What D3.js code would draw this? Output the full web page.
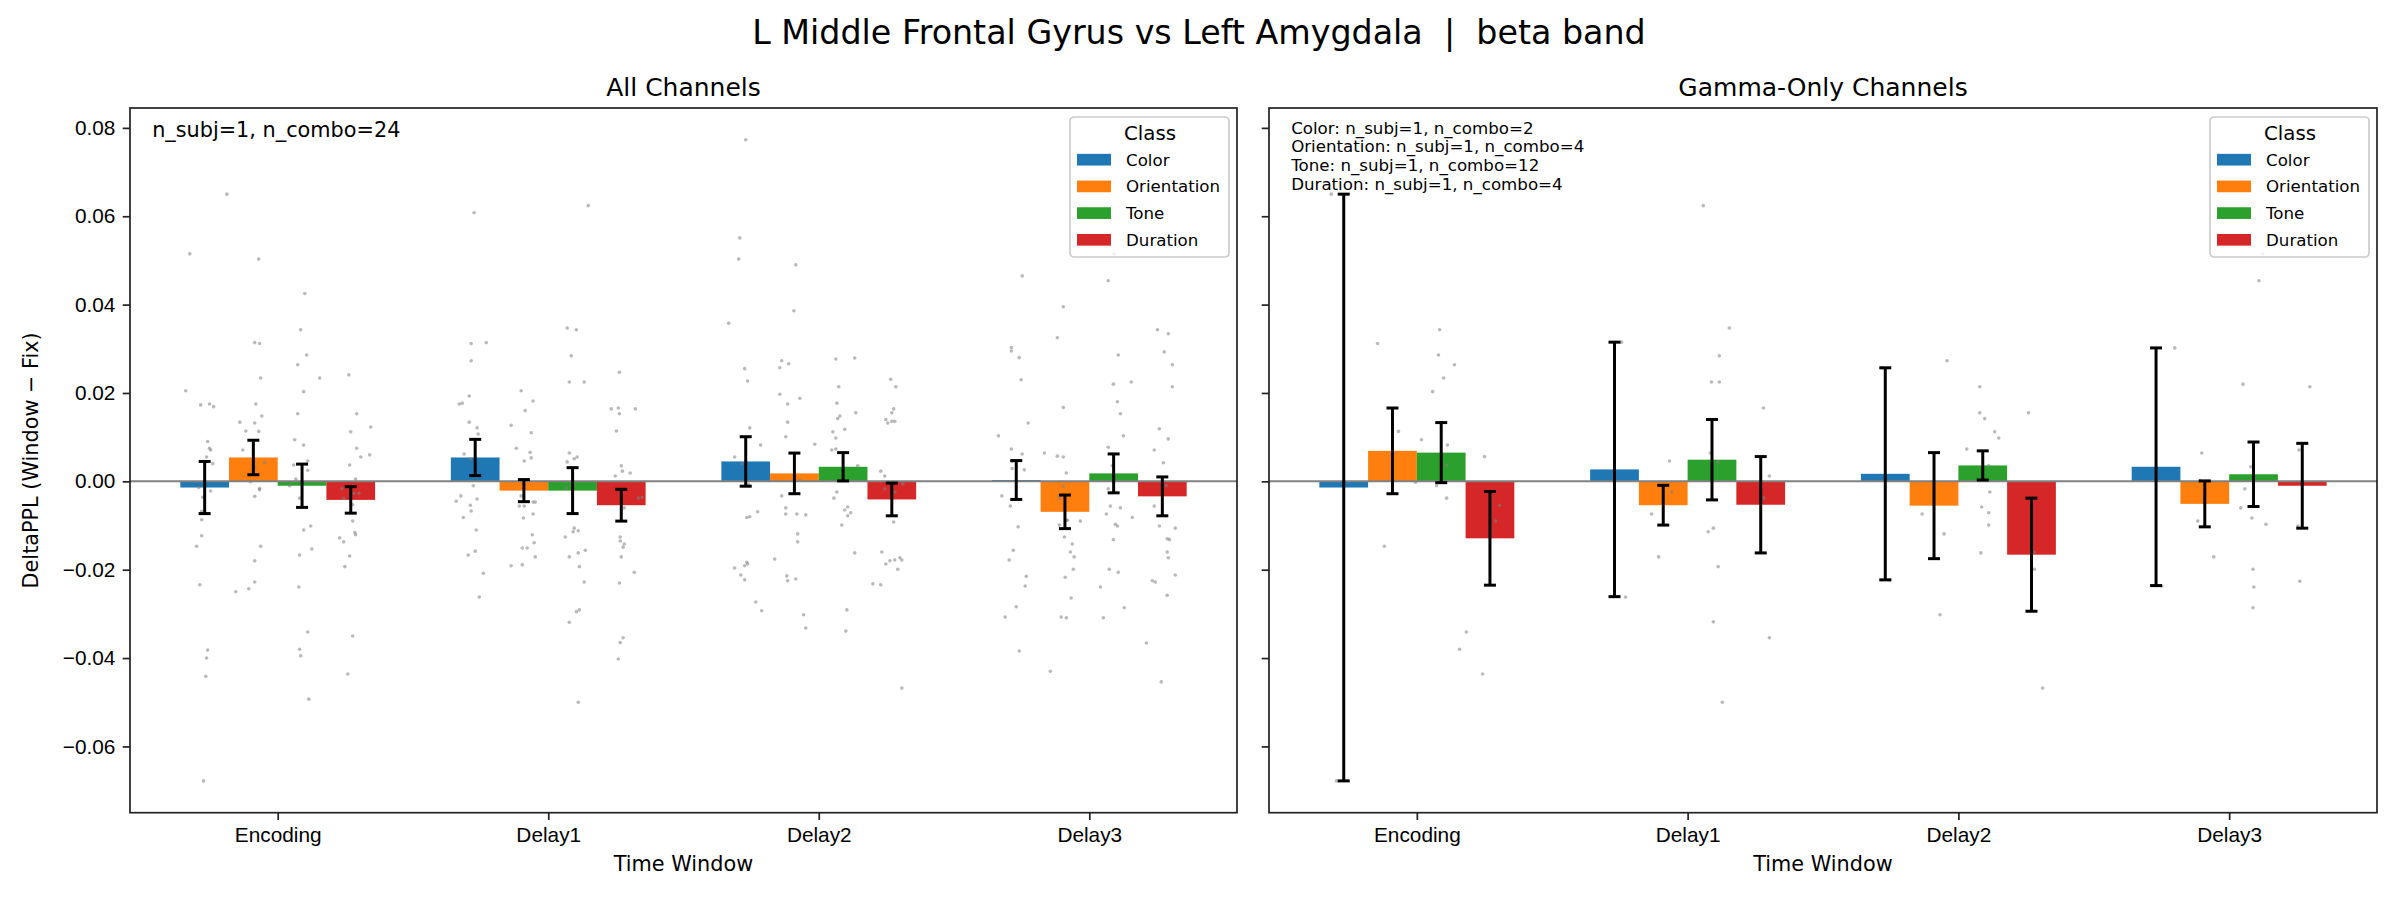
<!DOCTYPE html>
<html lang="en">
<head>
<meta charset="UTF-8">
<title>L Middle Frontal Gyrus vs Left Amygdala | beta band</title>
<script src="https://d3js.org/d3.v7.min.js"></script>
<style>
    body { margin: 0; background: #fff; }
    svg { font-family: "DejaVu Sans", sans-serif; display: block; }
    .axis path, .axis line { stroke: #222; stroke-width: 1.7px; }
    .axis text { font-size: 20.8px; fill: #000; }
</style>
</head>
<body>
<svg id="chart" width="2400" height="900"></svg>
<script>
// ---- data ----
var windows = ["Encoding", "Delay1", "Delay2", "Delay3"];
var classes = ["Color", "Orientation", "Tone", "Duration"];
var classColors = ["#1f77b4", "#ff7f0e", "#2ca02c", "#d62728"];
var yTicks = [-0.06, -0.04, -0.02, 0.00, 0.02, 0.04, 0.06, 0.08];

// All channels: mean and SEM per window (rows) and class (cols)
var allMeans = [
    [-0.0014, 0.0054, -0.0010, -0.0042],
    [0.0054, -0.0021, -0.0021, -0.0054],
    [0.0045, 0.0018, 0.0033, -0.0041],
    [0.0003, -0.0069, 0.0018, -0.0034]
];
var allErrs = [
    [0.0059, 0.0039, 0.0049, 0.0030],
    [0.0041, 0.0025, 0.0052, 0.0036],
    [0.0056, 0.0046, 0.0032, 0.0037],
    [0.0044, 0.0038, 0.0044, 0.0044]
];

// Gamma-only channels
var gammaMeans = [
    [-0.0014, 0.0069, 0.0065, -0.0129],
    [0.0027, -0.0054, 0.0049, -0.0053],
    [0.0017, -0.0055, 0.0036, -0.0166],
    [0.0033, -0.0051, 0.0016, -0.0010]
];
var gammaErrs = [
    [0.0664, 0.0097, 0.0068, 0.0106],
    [0.0288, 0.0045, 0.0091, 0.0109],
    [0.0240, 0.0120, 0.0033, 0.0128],
    [0.0269, 0.0052, 0.0073, 0.0096]
];

// individual combos: [jitter (category units), DeltaPPL]
var allDots = [
    [ // Encoding
        [[-0.055,0.0515],[0.082,0.0650],[-0.070,0.0205],[-0.015,0.0173],[0.018,0.0175],[0.033,0.0169],[0.011,0.0090],[0.018,0.0075],[0.022,0.0071],[0.007,0.0055],[0.030,0.0040],[-0.022,-0.0014],[0.022,-0.0022],[-0.007,-0.0036],[-0.011,-0.0068],[-0.011,-0.0087],[-0.011,-0.0123],[-0.030,-0.0147],[-0.018,-0.0234],[0.011,-0.0382],[0.007,-0.0400],[0.004,-0.0441],[-0.004,-0.0678]],
        [[0.020,0.0503],[0.005,0.0314],[0.023,0.0312],[0.027,0.0234],[0.009,0.0175],[0.031,0.0148],[-0.050,0.0134],[0.005,0.0132],[-0.028,0.0114],[0.020,0.0113],[-0.039,0.0071],[0.042,0.0042],[0.005,0.0032],[-0.010,-0.0001],[0.023,-0.0016],[0.023,-0.0019],[0.005,-0.0034],[0.027,-0.0147],[0.005,-0.0180],[0.005,-0.0228],[-0.017,-0.0243],[-0.065,-0.0250]],
        [[0.010,0.0425],[-0.005,0.0343],[0.017,0.0286],[-0.016,0.0264],[0.006,0.0203],[0.065,0.0234],[-0.016,0.0153],[-0.027,0.0094],[0.006,0.0082],[0.021,0.0046],[0.021,0.0025],[-0.031,0.0037],[-0.023,0.0005],[-0.046,-0.0010],[-0.009,-0.0038],[0.006,-0.0110],[0.032,-0.0101],[-0.009,-0.0167],[0.036,-0.0153],[-0.012,-0.0239],[0.021,-0.0341],[-0.009,-0.0380],[-0.005,-0.0395],[0.025,-0.0493]],
        [[-0.007,0.0241],[0.022,0.0153],[0.074,0.0123],[0.000,0.0112],[0.022,0.0075],[0.037,0.0055],[0.070,0.0060],[-0.004,0.0037],[0.018,0.0005],[-0.033,-0.0017],[0.011,-0.0027],[0.030,-0.0027],[-0.026,-0.0038],[0.007,-0.0053],[0.007,-0.0090],[0.015,-0.0116],[0.018,-0.0121],[-0.041,-0.0128],[-0.026,-0.0137],[-0.004,-0.0169],[-0.022,-0.0193],[0.007,-0.0350],[-0.011,-0.0436]]
    ],
    [ // Delay1
        [[-0.004,0.0608],[-0.015,0.0312],[0.041,0.0314],[-0.015,0.0273],[-0.022,0.0193],[-0.059,0.0175],[-0.048,0.0177],[-0.022,0.0134],[0.007,0.0121],[0.011,0.0107],[-0.041,0.0062],[-0.018,0.0051],[-0.007,-0.0010],[-0.053,-0.0033],[-0.070,-0.0045],[0.007,-0.0040],[-0.018,-0.0054],[-0.015,-0.0067],[-0.044,-0.0082],[0.004,-0.0110],[-0.026,-0.0167],[0.000,-0.0158],[0.030,-0.0208],[0.015,-0.0262]],
        [[-0.010,0.0205],[0.034,0.0182],[0.005,0.0160],[-0.047,0.0127],[0.027,0.0110],[-0.028,0.0075],[0.023,0.0066],[0.027,0.0053],[0.001,0.0046],[-0.010,-0.0033],[-0.017,-0.0056],[0.001,-0.0056],[0.034,-0.0047],[0.042,-0.0047],[0.034,-0.0074],[-0.002,-0.0083],[0.031,-0.0121],[0.038,-0.0139],[-0.006,-0.0151],[0.012,-0.0151],[0.042,-0.0171],[-0.047,-0.0191],[-0.006,-0.0189]],
        [[0.058,0.0624],[-0.020,0.0347],[0.014,0.0343],[-0.005,0.0284],[-0.012,0.0225],[0.043,0.0225],[-0.012,0.0064],[0.006,0.0051],[0.017,0.0055],[-0.020,0.0044],[-0.023,-0.0015],[0.006,-0.0106],[0.002,-0.0114],[0.021,-0.0112],[-0.027,-0.0126],[-0.012,-0.0171],[0.021,-0.0162],[0.047,-0.0156],[0.025,-0.0193],[0.043,-0.0228],[0.014,-0.0295],[0.025,-0.0291],[-0.012,-0.0319],[0.021,-0.0500]],
        [[-0.007,0.0247],[-0.037,0.0164],[-0.011,0.0166],[-0.007,0.0153],[0.052,0.0164],[-0.018,0.0114],[0.000,0.0035],[0.004,0.0023],[0.033,0.0019],[-0.022,0.0012],[0.063,-0.0038],[0.077,-0.0036],[0.011,-0.0060],[-0.004,-0.0126],[-0.004,-0.0135],[0.011,-0.0142],[0.007,-0.0149],[0.000,-0.0171],[0.048,-0.0206],[-0.007,-0.0230],[0.007,-0.0354],[-0.004,-0.0365],[-0.011,-0.0402]]
    ],
    [ // Delay2
        [[0.000,0.0773],[-0.022,0.0551],[-0.026,0.0503],[-0.063,0.0358],[-0.004,0.0255],[0.007,0.0227],[0.015,0.0121],[0.055,0.0082],[-0.041,0.0055],[-0.015,0.0040],[0.011,-0.0007],[0.004,-0.0082],[0.015,-0.0080],[0.044,-0.0069],[0.004,-0.0183],[0.007,-0.0187],[-0.004,-0.0191],[-0.041,-0.0196],[-0.018,-0.0212],[-0.004,-0.0223],[0.037,-0.0273],[0.059,-0.0293]],
        [[0.005,0.0490],[-0.002,0.0386],[-0.047,0.0273],[-0.054,0.0257],[-0.021,0.0266],[-0.054,0.0197],[0.020,0.0188],[-0.025,0.0175],[-0.025,0.0134],[-0.032,0.0101],[0.075,0.0084],[0.020,0.0003],[-0.047,-0.0033],[-0.032,-0.0060],[-0.032,-0.0074],[0.009,-0.0074],[0.042,-0.0076],[0.012,-0.0119],[0.012,-0.0137],[-0.073,-0.0176],[-0.028,-0.0214],[-0.025,-0.0225],[0.005,-0.0221],[0.034,-0.0302],[0.042,-0.0332]],
        [[-0.027,0.0277],[0.043,0.0279],[-0.016,0.0214],[-0.023,0.0177],[-0.012,0.0148],[-0.020,0.0142],[0.047,0.0155],[0.006,0.0118],[-0.038,0.0112],[-0.027,0.0098],[-0.042,0.0071],[-0.027,0.0073],[0.054,0.0035],[-0.023,-0.0024],[-0.034,-0.0038],[0.017,-0.0058],[0.006,-0.0065],[0.028,-0.0071],[0.017,-0.0078],[-0.005,-0.0099],[0.043,-0.0162],[0.014,-0.0291],[0.010,-0.0339]],
        [[-0.004,0.0231],[0.015,0.0214],[0.007,0.0164],[0.000,0.0155],[-0.022,0.0140],[-0.015,0.0132],[0.000,0.0136],[0.011,0.0136],[-0.041,0.0023],[-0.026,0.0012],[-0.026,-0.0017],[0.011,-0.0024],[0.041,-0.0006],[0.007,-0.0092],[-0.037,-0.0160],[-0.022,-0.0187],[-0.007,-0.0180],[0.011,-0.0178],[0.030,-0.0173],[0.037,-0.0178],[0.022,-0.0199],[-0.070,-0.0232],[-0.041,-0.0234],[0.037,-0.0468]]
    ],
    [ // Delay3
        [[0.022,0.0465],[-0.018,0.0303],[-0.018,0.0295],[0.011,0.0280],[0.018,0.0230],[0.044,0.0132],[-0.066,0.0103],[-0.018,0.0073],[0.022,0.0062],[-0.015,0.0045],[-0.015,0.0029],[0.030,0.0026],[-0.053,-0.0033],[-0.022,-0.0056],[0.007,-0.0103],[-0.011,-0.0156],[-0.026,-0.0178],[0.037,-0.0215],[0.033,-0.0237],[0.000,-0.0284],[-0.041,-0.0307],[0.011,-0.0384]],
        [[-0.006,0.0395],[-0.028,0.0325],[-0.006,0.0167],[-0.076,0.0064],[-0.028,0.0057],[-0.006,0.0055],[0.005,0.0019],[-0.006,-0.0011],[-0.021,-0.0038],[0.005,-0.0088],[0.009,-0.0088],[0.057,-0.0090],[-0.021,-0.0099],[-0.002,-0.0126],[0.027,-0.0142],[0.020,-0.0160],[0.034,-0.0171],[0.031,-0.0199],[0.001,-0.0217],[0.023,-0.0264],[-0.014,-0.0307],[0.005,-0.0309],[-0.054,-0.0430]],
        [[0.002,0.0515],[-0.020,0.0454],[0.017,0.0286],[-0.001,0.0220],[0.065,0.0225],[0.014,0.0180],[0.025,0.0153],[0.036,0.0103],[-0.020,0.0077],[-0.005,0.0035],[-0.020,-0.0017],[-0.012,-0.0056],[0.025,-0.0060],[-0.027,-0.0074],[0.069,-0.0082],[0.006,-0.0097],[0.014,-0.0101],[-0.001,-0.0132],[-0.016,-0.0199],[0.017,-0.0206],[-0.049,-0.0239],[0.039,-0.0286],[-0.038,-0.0309]],
        [[-0.018,0.0343],[0.022,0.0334],[0.007,0.0293],[0.037,0.0264],[0.037,0.0214],[-0.011,0.0119],[0.022,0.0096],[-0.030,0.0071],[0.004,0.0042],[0.015,-0.0010],[-0.030,-0.0056],[-0.011,-0.0101],[0.048,-0.0106],[0.018,-0.0130],[0.026,-0.0132],[0.018,-0.0160],[0.022,-0.0173],[0.048,-0.0212],[-0.037,-0.0225],[-0.026,-0.0228],[0.018,-0.0258],[-0.059,-0.0366],[-0.004,-0.0454]]
    ]
];

var gammaDots = [
    [
        [[-0.046,0.0650],[-0.027,-0.0678]],
        [[-0.055,0.0312],[0.022,0.0113],[-0.030,-0.0147],[0.085,-0.0002]],
        [[-0.006,0.0343],[-0.010,0.0286],[0.049,0.0264],[0.009,0.0234],[-0.032,0.0203],[-0.073,0.0094],[0.023,0.0082],[0.020,0.0037],[-0.017,-0.0010],[0.020,-0.0038],[0.093,-0.0341],[0.068,-0.0380]],
        [[-0.020,0.0056],[0.036,-0.0054],[0.021,-0.0090],[-0.027,-0.0436]]
    ],
    [
        [[0.026,0.0315],[0.041,-0.0262]],
        [[0.023,0.0046],[0.031,-0.0024],[-0.043,-0.0074],[-0.017,-0.0171]],
        [[-0.032,0.0624],[0.064,0.0347],[0.027,0.0284],[-0.002,0.0225],[0.027,0.0225],[-0.006,0.0064],[0.023,0.0044],[-0.014,-0.0114],[0.005,-0.0106],[0.023,-0.0193],[0.005,-0.0318],[0.038,-0.0500]],
        [[0.010,0.0166],[0.032,0.0012],[0.010,-0.0038],[0.032,-0.0354]]
    ],
    [
        [[-0.012,0.0257],[0.017,-0.0223]],
        [[0.048,0.0273],[-0.044,-0.0074],[0.037,-0.0119],[0.022,-0.0302]],
        [[-0.011,0.0214],[-0.011,0.0155],[0.007,0.0142],[0.044,0.0112],[0.059,0.0098],[-0.059,0.0073],[0.022,0.0035],[0.026,-0.0024],[-0.004,-0.0058],[0.022,-0.0071],[0.022,-0.0099],[-0.007,-0.0162]],
        [[-0.011,0.0155],[0.011,-0.0160],[0.011,-0.0199],[0.041,-0.0468]]
    ],
    [
        [[0.069,0.0302],[0.021,-0.0237]],
        [[-0.011,0.0064],[-0.018,0.0001],[-0.026,-0.0090],[0.033,-0.0171]],
        [[0.034,0.0515],[0.020,0.0454],[-0.039,0.0220],[-0.010,0.0033],[-0.032,-0.0017],[-0.047,-0.0060],[-0.006,-0.0083],[0.046,-0.0097],[-0.002,-0.0199],[0.001,-0.0239],[-0.002,-0.0286]],
        [[0.028,0.0214],[-0.012,0.0071],[-0.016,-0.0101],[-0.009,-0.0226]]
    ]
];

var allNote = ["n_subj=1, n_combo=24"];
var gammaNote = [
    "Color: n_subj=1, n_combo=2",
    "Orientation: n_subj=1, n_combo=4",
    "Tone: n_subj=1, n_combo=12",
    "Duration: n_subj=1, n_combo=4"
];

// ---- layout ----
var svg = d3.select("#chart");
var plotTop = 108, plotBottom = 812.7;
var barW = 0.18;

var y = d3.scaleLinear().domain([-0.075, 0.0845]).range([plotBottom, plotTop]);

svg.append("text")
    .attr("x", 1199).attr("y", 44)
    .attr("text-anchor", "middle")
    .style("font-size", "33.3px")
    .style("white-space", "pre")
    .text("L Middle Frontal Gyrus vs Left Amygdala  |  beta band");

function drawPanel(left, right, title, means, errs, dots, note, noteSize, noteStep, showLabels) {
    var x = d3.scaleLinear().domain([-0.546, 3.546]).range([left, right]);
    var g = svg.append("g");

    // bars
    windows.forEach(function (w, wi) {
        classes.forEach(function (c, ci) {
            var v = means[wi][ci];
            var cx = wi + (ci - 1.5) * barW;
            g.append("rect")
                .attr("x", x(cx - barW / 2))
                .attr("width", x(cx + barW / 2) - x(cx - barW / 2))
                .attr("y", y(Math.max(0, v)))
                .attr("height", Math.abs(y(v) - y(0)))
                .attr("fill", classColors[ci]);
        });
    });

    // individual points
    windows.forEach(function (w, wi) {
        classes.forEach(function (c, ci) {
            var cx = wi + (ci - 1.5) * barW;
            g.selectAll(null)
                .data(dots[wi][ci])
                .enter().append("circle")
                .attr("cx", function (d) { return x(cx + d[0]); })
                .attr("cy", function (d) { return y(d[1]); })
                .attr("r", 1.8)
                .attr("fill", "#808080")
                .attr("fill-opacity", 0.55);
        });
    });

    // zero line
    g.append("line")
        .attr("x1", left).attr("x2", right)
        .attr("y1", y(0)).attr("y2", y(0))
        .attr("stroke", "#808080").attr("stroke-width", 2);

    // error bars
    windows.forEach(function (w, wi) {
        classes.forEach(function (c, ci) {
            var cx = x(wi + (ci - 1.5) * barW);
            var lo = y(means[wi][ci] - errs[wi][ci]);
            var hi = y(means[wi][ci] + errs[wi][ci]);
            var eb = g.append("g").attr("stroke", "#000").attr("stroke-width", 3);
            eb.append("line").attr("x1", cx).attr("x2", cx).attr("y1", lo).attr("y2", hi);
            eb.append("line").attr("x1", cx - 6).attr("x2", cx + 6).attr("y1", lo).attr("y2", lo);
            eb.append("line").attr("x1", cx - 6).attr("x2", cx + 6).attr("y1", hi).attr("y2", hi);
        });
    });

    // axes
    var xAxis = d3.axisBottom(x)
        .tickValues([0, 1, 2, 3])
        .tickFormat(function (i) { return windows[i]; })
        .tickSize(7.3).tickPadding(7.3).tickSizeOuter(0);
    g.append("g").attr("class", "axis")
        .attr("transform", "translate(0," + plotBottom + ")")
        .call(xAxis)
        .select(".domain").remove();

    var yAxis = d3.axisLeft(y)
        .tickValues(yTicks)
        .tickFormat(showLabels ? d3.format(".2f") : "")
        .tickSize(7.3).tickPadding(7.3).tickSizeOuter(0);
    g.append("g").attr("class", "axis")
        .attr("transform", "translate(" + left + ",0)")
        .call(yAxis)
        .select(".domain").remove();

    // frame
    g.append("rect")
        .attr("x", left).attr("y", plotTop)
        .attr("width", right - left).attr("height", plotBottom - plotTop)
        .attr("fill", "none").attr("stroke", "#222").attr("stroke-width", 1.7);

    // titles
    g.append("text")
        .attr("x", (left + right) / 2).attr("y", 96)
        .attr("text-anchor", "middle").style("font-size", "25px")
        .text(title);
    g.append("text")
        .attr("x", (left + right) / 2).attr("y", 871)
        .attr("text-anchor", "middle").style("font-size", "20.8px")
        .text("Time Window");

    // annotation
    g.selectAll(null).data(note).enter().append("text")
        .attr("x", left + 0.02 * (right - left))
        .attr("y", function (d, i) { return (noteSize > 18 ? 137 : 133.5) + i * noteStep; })
        .style("font-size", noteSize + "px")
        .text(function (d) { return d; });

    // legend
    var lg = g.append("g").attr("transform", "translate(" + (right - 167) + ",117)");
    lg.append("rect")
        .attr("width", 159).attr("height", 140).attr("rx", 4)
        .attr("fill", "#fff").attr("fill-opacity", 0.8)
        .attr("stroke", "#cccccc").attr("stroke-width", 1.7);
    lg.append("text")
        .attr("x", 80).attr("y", 23)
        .attr("text-anchor", "middle").style("font-size", "19.8px")
        .text("Class");
    classes.forEach(function (c, ci) {
        var cy = 42.7 + ci * 26.7;
        lg.append("rect")
            .attr("x", 7).attr("y", cy - 5.85)
            .attr("width", 34).attr("height", 11.7)
            .attr("fill", classColors[ci]);
        lg.append("text")
            .attr("x", 56).attr("y", cy + 6)
            .style("font-size", "16.67px")
            .text(c);
    });
}

drawPanel(130, 1237, "All Channels", allMeans, allErrs, allDots, allNote, 20.8, 0, true);
drawPanel(1269, 2377, "Gamma-Only Channels", gammaMeans, gammaErrs, gammaDots, gammaNote, 16.67, 18.7, false);

// shared y label
svg.append("text")
    .attr("transform", "translate(31," + ((plotTop + plotBottom) / 2) + ") rotate(-90)")
    .attr("text-anchor", "middle")
    .attr("dominant-baseline", "central")
    .style("font-size", "20.8px")
    .text("DeltaPPL (Window \u2212 Fix)");
</script>
</body>
</html>
